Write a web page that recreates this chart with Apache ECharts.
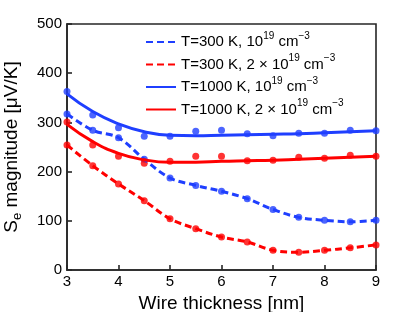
<!DOCTYPE html>
<html><head><meta charset="utf-8">
<script src="https://cdn.jsdelivr.net/npm/echarts@6/dist/echarts.min.js"></script>
<style>html,body{margin:0;padding:0;background:#fff}#c{width:415px;height:312px}</style>
</head><body><div id="c"></div>
<script>
const thickness = [3,3.5,4,4.5,5,5.5,6,6.5,7,7.5,8,8.5,9];
const xTicks = [3,4,5,6,7,8,9];
const yTicks = [0,100,200,300,400,500];
// measured points
const s300a = [317,284,269,225,187,172,160,145,123,107,101,98,101];
const s300b = [254,212,175,141,104,84,67,57,40,36,40,45,51];
const s1000a = [363,315,289,272,272,282,284,277,273,278,278,284,283];
const s1000b = [301,254,231,217,221,231,231,222,223,229,227,233,231];
// fitted curves
const fit1000a = [358,322,297,281,274,273,274,275,276,277,279,281,283];
const fit1000b = [296,261,237,224,219,219,221,222,223,225,227,229,231];
const names = [
  '{n|T=300 K, 10}{sup|19}{n| cm}{sup|−3}',
  '{n|T=300 K, 2 × 10}{sup|19}{n| cm}{sup|−3}',
  '{n|T=1000 K, 10}{sup|19}{n| cm}{sup|−3}',
  '{n|T=1000 K, 2 × 10}{sup|19}{n| cm}{sup|−3}'
];
const BLUE = '#1f3fff', RED = '#ff0000', INK = '#262626';
const pairs = a => thickness.map((x,i)=>[x,a[i]]);
const F = 'Liberation Sans, Arial, sans-serif';
const chart = echarts.init(document.getElementById('c'));
function lineS(name, data, color, dashed, smooth){
  return {name, type:'line', data:pairs(data), smooth, symbol:'none',
    lineStyle:{color, width:3, type: dashed ? [7,4] : 'solid'}, itemStyle:{color}};
}
function dotS(data, color){
  return {name:'_'+color+data[0], type:'scatter', data:pairs(data), symbol:'circle', symbolSize:7, itemStyle:{color}};
}
chart.setOption({
  animation:false,
  grid:{left:67, right:39, top:24, bottom:42, outerBoundsMode:'none', show:true, borderColor:INK, borderWidth:1.6},
  legend:{
    orient:'vertical', left:145, top:31, padding:0, itemWidth:30, itemHeight:14, itemGap:4,
    itemStyle:{opacity:0},
    data:names, formatter: n => n,
    textStyle:{fontFamily:F, fontSize:15, color:'#000',
      rich:{n:{fontFamily:F, fontSize:15, lineHeight:22, color:'#000'},
            sup:{fontFamily:F, fontSize:10, lineHeight:8, verticalAlign:'top', color:'#000'}}}
  },
  xAxis:{type:'value', min:3, max:9, interval:1,
    axisLine:{show:true, lineStyle:{color:INK, width:1.6}},
    axisTick:{show:true, inside:true, length:5, lineStyle:{color:INK, width:1.6}},
    splitLine:{show:false},
    name:'Wire thickness [nm]', nameLocation:'middle', nameGap:18,
    nameTextStyle:{fontFamily:F, fontSize:19, color:'#000'},
    axisLabel:{fontFamily:F, fontSize:15, color:'#000', margin:4,
      formatter: v => xTicks.includes(v) ? String(v) : ''}},
  yAxis:{type:'value', min:0, max:500, interval:100,
    axisLine:{show:true, lineStyle:{color:INK, width:1.6}},
    axisTick:{show:true, inside:true, length:5, lineStyle:{color:INK, width:1.6}},
    splitLine:{show:false},
    name:'{s|S}{sub|e} magnitude [μV/K]', nameLocation:'middle', nameGap:43, nameRotate:90,
    nameTextStyle:{fontFamily:F, fontSize:19, color:'#000',
      rich:{s:{fontFamily:F, fontSize:19, lineHeight:24, color:'#000'},
            sub:{fontFamily:F, fontSize:13, lineHeight:12, verticalAlign:'bottom', color:'#000'}}},
    axisLabel:{fontFamily:F, fontSize:15, color:'#000', margin:5,
      formatter: v => yTicks.includes(v) ? String(v) : ''}},
  series:[
    lineS(names[0], s300a, BLUE, true, 0.35),
    lineS(names[1], s300b, RED, true, 0.35),
    lineS(names[2], fit1000a, BLUE, false, 0.5),
    lineS(names[3], fit1000b, RED, false, 0.5),
    dotS(s300a, BLUE), dotS(s300b, RED), dotS(s1000a, BLUE), dotS(s1000b, RED)
  ]
});
</script></body></html>
